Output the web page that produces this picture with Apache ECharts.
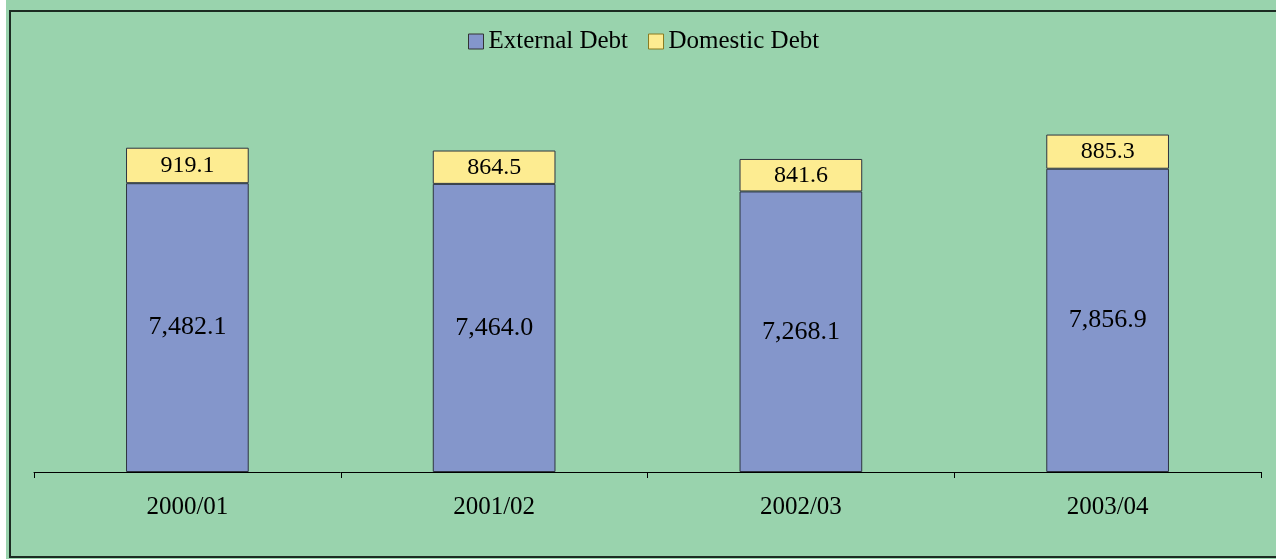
<!DOCTYPE html>
<html>
<head>
<meta charset="utf-8">
<style>
  html, body { margin: 0; padding: 0; background: #ffffff; }
  #chart { width: 1276px; height: 559px; }
</style>
<script src="https://cdn.jsdelivr.net/npm/echarts@6/dist/echarts.min.js"></script>
</head>
<body>
<div id="chart"></div>
<script>
// Public debt composition by fiscal year
const years = ['2000/01', '2001/02', '2002/03', '2003/04'];
const externalDebt = [7482.1, 7464.0, 7268.1, 7856.9];
const domesticDebt = [919.1, 864.5, 841.6, 885.3];

const serif = '"Liberation Serif", "Times New Roman", serif';
const fmt = v => v.toLocaleString('en-US', { minimumFractionDigits: 1, maximumFractionDigits: 1 });

const chart = echarts.init(document.getElementById('chart'), null, { renderer: 'canvas' });

chart.setOption({
  animation: false,
  backgroundColor: 'transparent',
  graphic: [
    { type: 'rect', z: -10, shape: { x: 6, y: 0, width: 1270, height: 559 }, style: { fill: '#99d3ad' } },
    { type: 'rect', z: -9, shape: { x: 10, y: 11, width: 1290, height: 546 },
      style: { fill: 'none', stroke: '#1c2b22', lineWidth: 2 } }
  ],
  legend: {
    top: 24,
    left: 463,
    icon: 'rect',
    itemWidth: 15,
    itemHeight: 15,
    itemGap: 20,
    textStyle: { fontFamily: serif, fontSize: 25, color: '#000' },
    data: [
      { name: 'External Debt', itemStyle: { borderColor: '#333', borderWidth: 1 } },
      { name: 'Domestic Debt', itemStyle: { borderColor: '#8a7a20', borderWidth: 1 } }
    ]
  },
  grid: { left: 34, right: 15, top: 86, bottom: 87, containLabel: false },
  xAxis: {
    type: 'category',
    data: years,
    boundaryGap: true,
    axisLine: { lineStyle: { color: '#000', width: 1 } },
    axisTick: { show: true, length: 6, lineStyle: { color: '#000' } },
    axisLabel: { fontFamily: serif, fontSize: 25, color: '#000', margin: 23 }
  },
  yAxis: {
    type: 'value',
    min: 0,
    max: 10000,
    show: false,
    splitLine: { show: false }
  },
  series: [
    {
      name: 'External Debt',
      type: 'bar',
      stack: 'debt',
      barWidth: '40%',
      data: externalDebt,
      itemStyle: { color: '#8496cb', borderColor: '#2e3440', borderWidth: 1 },
      label: {
        show: true, position: 'inside',
        fontFamily: serif, fontSize: 26, color: '#000',
        formatter: p => fmt(p.value)
      }
    },
    {
      name: 'Domestic Debt',
      type: 'bar',
      stack: 'debt',
      barWidth: '40%',
      data: domesticDebt,
      itemStyle: { color: '#fdec91', borderColor: '#2e3440', borderWidth: 1 },
      label: {
        show: true, position: 'inside',
        fontFamily: serif, fontSize: 24, color: '#000',
        formatter: p => fmt(p.value)
      }
    }
  ]
});
</script>
</body>
</html>
